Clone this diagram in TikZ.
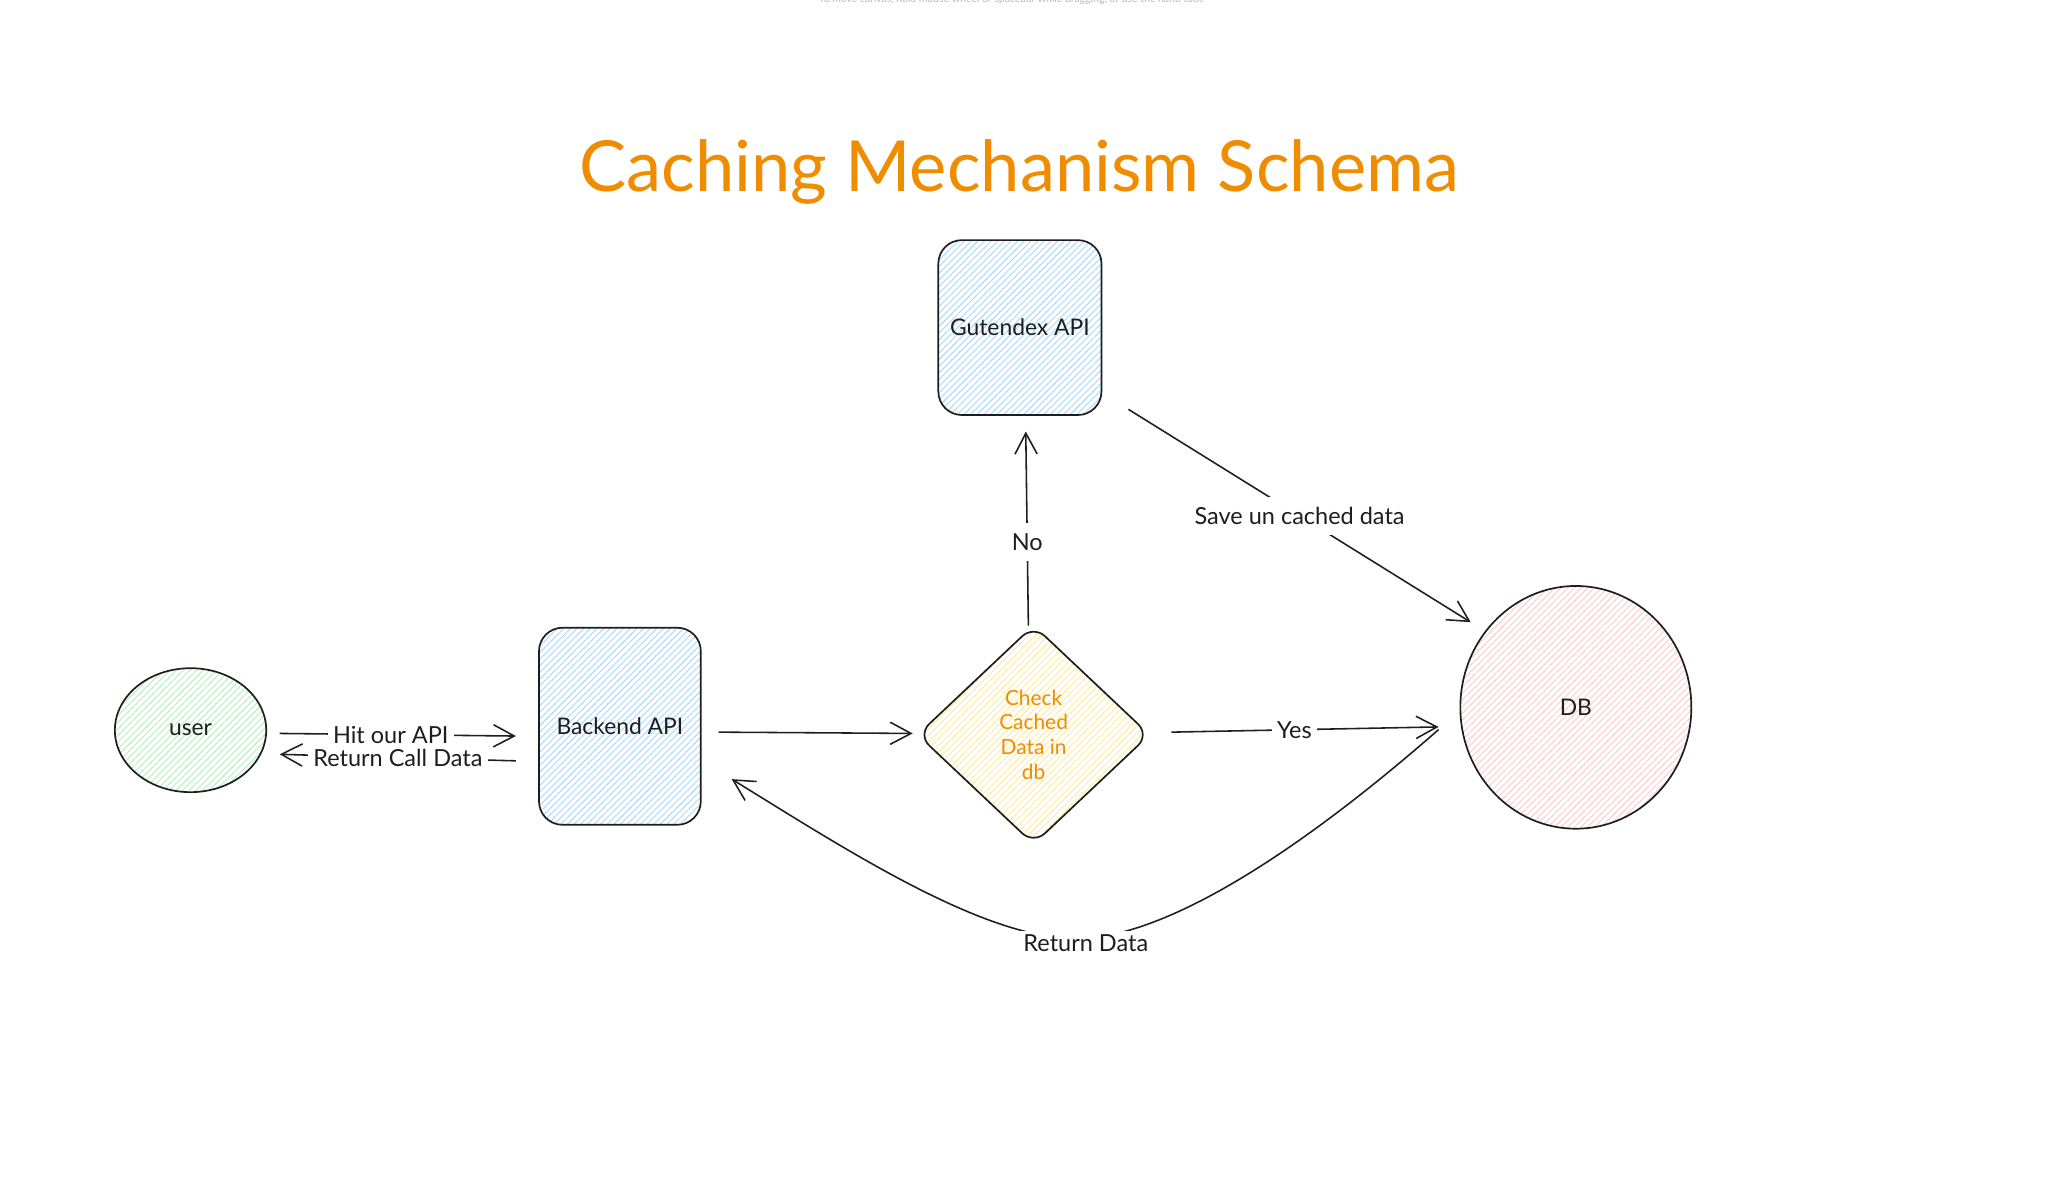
\documentclass[tikz,border=0pt]{standalone}
\usepackage{fontspec}
\setmainfont{Lato}
\usetikzlibrary{shapes.geometric,arrows.meta,patterns.meta,calc}
\definecolor{ink}{HTML}{1E1E1E}
\definecolor{orng}{HTML}{F08C00}
\definecolor{hblue}{HTML}{A5D8FF}
\definecolor{hgreen}{HTML}{B2F2BB}
\definecolor{hyellow}{HTML}{FFEC99}
\definecolor{hred}{HTML}{FFC9C9}
\begin{document}
\begin{tikzpicture}[x=1pt,y=-1pt,
  shp/.style={draw=ink, line width=1.3pt, text=ink, font=\fontsize{17.5}{19}\selectfont},
  hach/.style={pattern={Lines[angle=45,distance=3.6pt,line width=0.7pt]}, pattern color=#1},
  arr/.style={draw=ink, line width=1.2pt, -{Straight Barb[length=16pt,width=17pt,line width=1.2pt]}},
  lbl/.style={fill=white, text=ink, font=\fontsize{18}{20}\selectfont, inner xsep=4pt, inner ysep=3pt},
]
\useasboundingbox[fill=white] (0,0) rectangle (1567,918.7);

% faint hint text, cut off at the top edge as in the reference
\node[text=gray!55, font=\fontsize{8}{9}\selectfont] (hint) at (775,-0.5) {To move canvas, hold mouse wheel or spacebar while dragging, or use the hand tool.};

% title
\node[text=orng, font=\fontsize{54}{60}\selectfont, anchor=base] (title) at (781,147) {Caching Mechanism Schema};

% shapes
\node[shp, hach=hgreen, ellipse, minimum width=116pt, minimum height=95pt, inner sep=0pt] (user) at (146,559.5) {user};
\node[shp, hach=hblue, rounded corners=18pt, minimum width=124pt, minimum height=151pt] (backend) at (475,556.5) {Backend API};
\node[shp, hach=hblue, rounded corners=18pt, minimum width=125pt, minimum height=134pt] (gut) at (781.5,251) {Gutendex API};
\node[shp, hach=hyellow, diamond, minimum width=178pt, minimum height=168pt, inner sep=0pt, rounded corners=12pt, text=orng, align=center, font=\fontsize{16}{19}\selectfont] (check) at (792,563) {Check\\Cached\\Data in\\db};
\node[shp, hach=hred, ellipse, minimum width=177pt, minimum height=186pt, inner sep=0pt] (db) at (1207.5,542) {DB};

% connectors
\draw[arr] ($(user.east)+(10,2.5)$) -- node[lbl, pos=0.47] (lhit) {Hit our API} ($(backend.west)+(-17,7.5)$);
\draw[arr] ($(backend.west)+(-17,26.5)$) -- node[lbl, pos=0.5, inner ysep=0pt] (lret) {Return Call Data} ($(user.east)+(10,18.5)$);
\draw[arr] ($(backend.east)+(13,4.5)$) -- ($(check.west)+(-3,-1)$);
\draw[arr] ($(check.north)+(-4,1)$) -- node[lbl, pos=0.43, inner ysep=8pt] (lno) {No} ($(gut.south)+(4.5,12)$);
\draw[arr] ($(gut.south east)+(20,-5)$) -- node[lbl, pos=0.5, inner sep=8pt] (lsave) {Save un cached data} ($(db.north west)+(-17.5,1)$);
\draw[arr] ($(check.east)+(16,-2)$) -- node[lbl, pos=0.46] (lyes) {Yes} ($(db.west)+(-16,15)$);
\draw[arr] ($(db.west)+(-16,17)$) .. controls (1010,640) and (905,714) .. (832,719)
  node[lbl, yshift=-4pt] (lrdata) {Return Data}
  .. controls (760,724) and (650,652) .. ($(backend.east)+(23,40.5)$);
\end{tikzpicture}
\end{document}
